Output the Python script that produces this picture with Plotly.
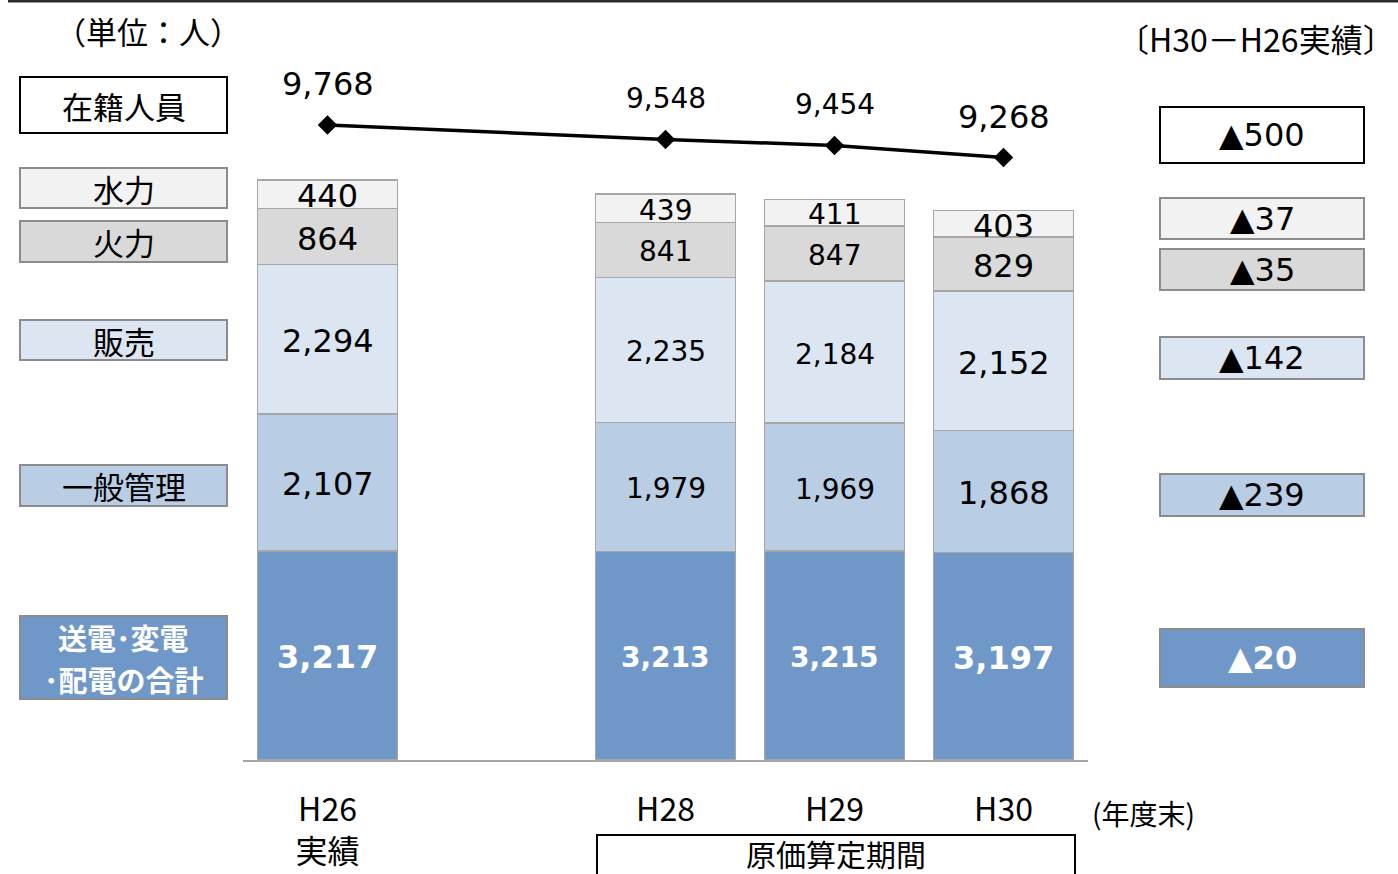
import plotly.graph_objects as go

# ---- data (人, 年度末) ----
years = ["H26", "H28", "H29", "H30"]
slots = ["H26", "H27", "H28", "H29", "H30"]          # H27 is an empty slot
tick_text = ["H26<br>実績", "H28", "H29", "H30"]

segment_names = ["送電・変電・配電の合計", "一般管理", "販売", "火力", "水力"]
transmission = [3217, 3213, 3215, 3197]
general_admin = [2107, 1979, 1969, 1868]
sales = [2294, 2235, 2184, 2152]
thermal = [864, 841, 847, 829]
hydro = [440, 439, 411, 403]
headcount = [9768, 9548, 9454, 9268]   # 在籍人員

series = [transmission, general_admin, sales, thermal, hydro]

# ---- styling ----
colors = ["#6f98c9", "#b9cde5", "#dce6f2", "#d9d9d9", "#f2f2f2"]
label_colors = ["white", "black", "black", "black", "black"]
label_sizes = [32, 28, 28, 32]          # per year
NUM_FONT = "DejaVu Sans, Noto Sans CJK JP"
JP_FONT = "Noto Sans CJK JP, DejaVu Sans"

W, H = 1398, 874
ML, MR, MT, MB = 243, 310, 40, 114
PW, PH = W - ML - MR, H - MT - MB


def px(x):
    return (x - ML) / PW


def py(y):
    return (H - MB - y) / PH


fig = go.Figure()

for name, vals, col in zip(segment_names, series, colors):
    fig.add_trace(go.Bar(
        x=years, y=vals, name=name,
        marker=dict(color=col, line=dict(color="#a6a6a6", width=1.2)),
        width=0.83, textposition="none", showlegend=False,
    ))

fig.add_trace(go.Scatter(
    x=years, y=headcount, mode="lines+markers", name="在籍人員",
    line=dict(color="black", width=3.5),
    marker=dict(symbol="diamond", size=15, color="black"),
    showlegend=False,
))

annotations = []

# values inside each stacked segment
for i, yr in enumerate(years):
    base = 0
    for k, vals in enumerate(series):
        v = vals[i]
        bold = k == 0
        txt = f"<b>{v:,}</b>" if bold else f"{v:,}"
        annotations.append(dict(
            x=yr, y=base + v / 2, xref="x", yref="y", text=txt,
            showarrow=False, yshift=-2, xanchor="center", yanchor="middle",
            font=dict(family=NUM_FONT, size=label_sizes[i],
                      color=label_colors[k]),
        ))
        base += v

# headcount values above the line markers
for i, yr in enumerate(years):
    annotations.append(dict(
        x=yr, y=headcount[i], xref="x", yref="y", text=f"{headcount[i]:,}",
        showarrow=False, yshift=41, xanchor="center", yanchor="middle",
        font=dict(family=NUM_FONT, size=label_sizes[i], color="black"),
    ))

shapes = []

# frame rule along the top edge
shapes.append(dict(type="rect", xref="paper", yref="paper",
                   x0=px(8), x1=px(W + 2), y0=py(2.5), y1=py(-1),
                   fillcolor="#2b2b2b", line=dict(width=0), layer="above"))


def text_at(x, y, text, size, family=JP_FONT, color="black", anchor="center"):
    annotations.append(dict(
        x=px(x), y=py(y), xref="paper", yref="paper", text=text,
        showarrow=False, xanchor=anchor, yanchor="middle",
        font=dict(family=family, size=size, color=color),
    ))


def box(x0, x1, y0, y1, fill, border, bw, lines, color, size, family,
        bold=False, pitch=42):
    shapes.append(dict(type="rect", xref="paper", yref="paper",
                       x0=px(x0), x1=px(x1), y0=py(y1), y1=py(y0),
                       fillcolor=fill, line=dict(color=border, width=bw)))
    mid = (y0 + y1) / 2
    first = mid - pitch * (len(lines) - 1) / 2
    for j, t in enumerate(lines):
        text_at((x0 + x1) / 2, first + j * pitch,
                f"<b>{t}</b>" if bold else t, size, family, color)


# left-hand category boxes
box(20, 227, 77, 133, "white", "black", 2, ["在籍人員"], "black", 31, JP_FONT)
left_rows = [(616, 699), (465, 506), (320, 360), (221, 262), (168, 208)]
left_text = [["送電･変電", "･配電の合計"], ["一般管理"], ["販売"], ["火力"], ["水力"]]
for k, (y0, y1) in enumerate(left_rows):
    box(20, 227, y0, y1, colors[k], "#8c8c8c", 2, left_text[k],
        label_colors[k], 29 if k == 0 else 31, JP_FONT, bold=(k == 0))

# right-hand H30 − H26 difference boxes
total_diff = headcount[-1] - headcount[0]
box(1160, 1364, 107, 163, "white", "black", 2, [f"▲{abs(total_diff)}"],
    "black", 32, NUM_FONT)
right_rows = [(629, 687), (474, 516), (337, 379), (249, 290), (198, 239)]
for k, (y0, y1) in enumerate(right_rows):
    d = series[k][-1] - series[k][0]
    box(1160, 1364, y0, y1, colors[k], "#8c8c8c", 2, [f"▲{abs(d)}"],
        label_colors[k], 32, NUM_FONT, bold=(k == 0))

# cost-calculation period bracket under H28–H30
shapes.append(dict(type="rect", xref="paper", yref="paper",
                   x0=px(597), x1=px(1075), y0=py(890), y1=py(835),
                   fillcolor="rgba(0,0,0,0)", line=dict(color="black", width=2)))
text_at(836, 853, "原価算定期間", 30)

# free-standing captions
text_at(148, 30, "（単位：人）", 31)
text_at(1397, 38, "〔H30－H26実績〕", 32, anchor="right")
text_at(1090, 813, "(年度末)", 28, anchor="left")

fig.update_layout(
    width=W, height=H,
    margin=dict(l=ML, r=MR, t=MT, b=MB, pad=0, autoexpand=False),
    paper_bgcolor="white", plot_bgcolor="white",
    barmode="stack",
    showlegend=False,
    annotations=annotations,
    shapes=shapes,
    xaxis=dict(
        type="category", categoryorder="array", categoryarray=slots,
        range=[-0.5, 4.5], automargin=False,
        tickvals=years, ticktext=tick_text,
        ticks="outside", ticklen=21, tickcolor="rgba(0,0,0,0)",
        tickfont=dict(family=JP_FONT, size=32, color="black"),
        showline=True, linecolor="#a6a6a6", linewidth=1.5,
        showgrid=False, zeroline=False, fixedrange=True,
    ),
    yaxis=dict(
        range=[0, 11077], visible=False, showgrid=False, zeroline=False,
        fixedrange=True, automargin=False,
    ),
)

fig.write_html("out.html")
